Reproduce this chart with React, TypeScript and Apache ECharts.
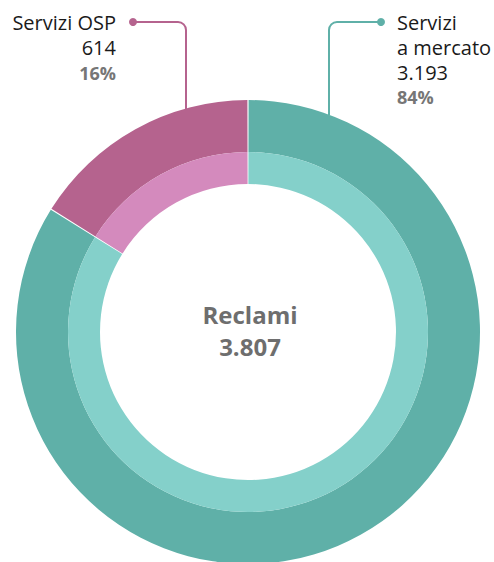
import React, { useEffect, useRef } from "react";
import * as echarts from "echarts";

const categories = ["Servizi a mercato", "Servizi OSP"];
const labelLines = [["Servizi", "a mercato"], ["Servizi OSP"]];
const values = [3193, 614];
const centerTitle = "Reclami";
const outerColors = ["#5fb0a8", "#b5638e"];
const innerColors = ["#84d0ca", "#d48abd"];

const fmt = (n: number) => n.toLocaleString("de-DE");

export default function App() {
  const ref = useRef<HTMLDivElement>(null);
  useEffect(() => {
    document.body.style.margin = "0";
    const chart = echarts.init(ref.current!, null, { renderer: "svg" });
    const total = values.reduce((a, b) => a + b, 0);
    const pct = values.map((v) => Math.round((v / total) * 100) + "%");
    const font = "Open Sans";
    const cx = 248;
    const cy = 332;
    const mk = (colors: string[]) =>
      categories.map((c, i) => ({ name: c, value: values[i], itemStyle: { color: colors[i] } }));
    const lineStyle = (c: string) => ({ stroke: c, lineWidth: 2, fill: null });
    const txt = "#1a1a1a";
    const pctCol = "#767676";
    const labelText = (i: number) =>
      labelLines[i].map((l) => "{n|" + l + "}").join("\n") + "\n{n|" + fmt(values[i]) + "}\n{p|" + pct[i] + "}";
    const rich = (lh: number) => ({
      n: { fontFamily: font, fontSize: 20, fill: txt, color: txt, lineHeight: lh },
      p: { fontFamily: font, fontSize: 18, fontWeight: "bold", fill: pctCol, color: pctCol, lineHeight: lh },
    });
    chart.setOption({
      animation: false,
      series: [
        {
          type: "pie",
          center: [cx, cy],
          radius: [180, 232],
          startAngle: 90,
          clockwise: true,
          padAngle: 0.3,
          label: { show: false },
          labelLine: { show: false },
          silent: true,
          data: mk(outerColors),
        },
        {
          type: "pie",
          center: [cx, cy],
          radius: [148, 180],
          startAngle: 90,
          clockwise: true,
          padAngle: 0.3,
          label: { show: false },
          labelLine: { show: false },
          silent: true,
          data: mk(innerColors),
        },
      ],
      graphic: [
        {
          type: "text",
          x: cx + 2,
          y: 330,
          style: {
            text: centerTitle + "\n" + fmt(total),
            fontFamily: font,
            fontWeight: "bold",
            fontSize: 24,
            lineHeight: 32,
            fill: "#6e6e6e",
            align: "center",
            verticalAlign: "middle",
          },
        },
        {
          type: "text",
          x: 116,
          y: 9.5,
          style: { text: labelText(1), rich: rich(25.5), align: "right", verticalAlign: "top" },
        },
        {
          type: "text",
          x: 397,
          y: 9.5,
          style: { text: labelText(0), rich: rich(25), align: "left", verticalAlign: "top" },
        },
        { type: "circle", shape: { cx: 133, cy: 22, r: 4 }, style: { fill: outerColors[1] } },
        { type: "line", shape: { x1: 133, y1: 22, x2: 178, y2: 22 }, style: lineStyle(outerColors[1]) },
        { type: "arc", shape: { cx: 178, cy: 30, r: 8, startAngle: -Math.PI / 2, endAngle: 0, clockwise: true }, style: lineStyle(outerColors[1]) },
        { type: "line", shape: { x1: 186, y1: 30, x2: 186, y2: 109 }, style: lineStyle(outerColors[1]) },
        { type: "circle", shape: { cx: 381, cy: 22, r: 4 }, style: { fill: outerColors[0] } },
        { type: "line", shape: { x1: 337, y1: 22, x2: 381, y2: 22 }, style: lineStyle(outerColors[0]) },
        { type: "arc", shape: { cx: 337, cy: 30, r: 8, startAngle: -Math.PI, endAngle: -Math.PI / 2, clockwise: true }, style: lineStyle(outerColors[0]) },
        { type: "line", shape: { x1: 329, y1: 30, x2: 329, y2: 115 }, style: lineStyle(outerColors[0]) },
      ],
    });
    return () => chart.dispose();
  }, []);
  return <div ref={ref} style={{ width: 494, height: 562 }} />;
}
